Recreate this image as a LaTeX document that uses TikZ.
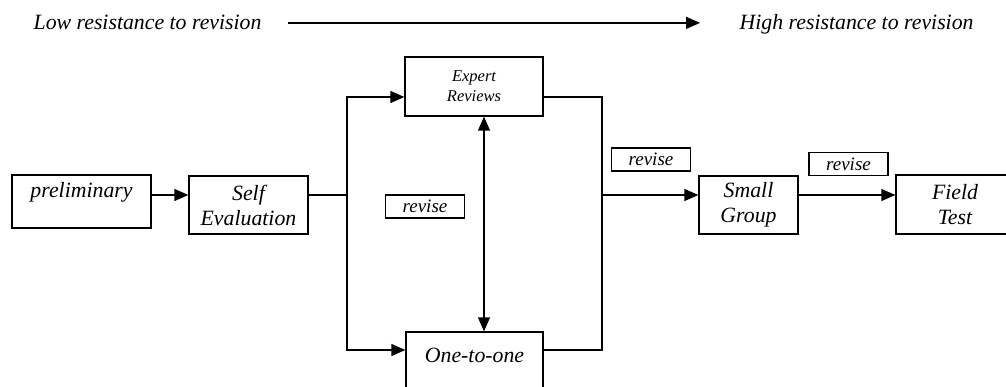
\documentclass[tikz,border=0pt]{standalone}
\usepackage{fontspec}
\setmainfont{Liberation Serif}
\usetikzlibrary{arrows.meta,positioning}

\begin{document}
\begin{tikzpicture}[x=1pt,y=-1pt,>={Triangle[length=14pt,width=12pt]},line width=1.3pt,
                    font=\itshape\fontsize{21.8}{25}\selectfont]
  \tikzstyle{stage}=[rectangle,draw=black,fill=white,align=center,inner sep=0pt]
  \tikzstyle{revbox}=[rectangle,draw=black,inner sep=0pt,minimum width=79pt,
                      minimum height=23pt,font=\itshape\fontsize{19}{22}\selectfont]
  \tikzstyle{endlabel}=[inner sep=0pt,anchor=base west]

  \clip (0,0) rectangle (1006,387);

  % resistance scale along the top
  \node[endlabel] (low)  at (33,30)  {Low resistance to revision};
  \node[endlabel] (high) at (739,30) {High resistance to revision};

  % stages
  \node[stage,minimum width=139pt,minimum height=53pt,text depth=24pt] (prelim) at (81.5,201.5) {preliminary};
  \node[stage,minimum width=119pt,minimum height=58pt] (selfev)  at (248.5,205) {Self\\Evaluation};
  \node[stage,minimum width=138pt,minimum height=59pt,
        font=\itshape\fontsize{16.5}{20}\selectfont] (expert) at (474,86.5) {Expert\\Reviews};
  \node[stage,minimum width=137pt,minimum height=59pt,text depth=12pt] (onetoone) at (474.5,361.5) {One-to-one};
  \node[stage,minimum width=99pt,minimum height=58pt]  (smallgrp)  at (748.5,205) {Small\\Group};
  \node[stage,minimum width=118pt,minimum height=59pt] (fieldtest) at (955,204.5) {Field\\Test};

  \node[revbox] (revmid)   at (425,206.5) {revise};
  \node[revbox] (revsmall) at (651,159.5) {revise};
  \node[revbox] (revfield) at (848.5,164) {revise};

  \coordinate (mainrow) at (0,195);
  \coordinate (toprow)  at (0,97);
  \coordinate (botrow)  at (0,350);
  \coordinate (fork)    at (347,195);
  \coordinate (merge)   at (602,195);
  \coordinate (both)    at (484,0);

  \draw[->] ([xshift=26pt]low.east) -- ([xshift=-39pt]high.west |- low.east);

  \draw[->] (prelim.east |- mainrow) -- (selfev.west |- mainrow);
  \draw (selfev.east |- mainrow) -- (fork);
  \draw[->] (fork) |- (expert.west |- toprow);
  \draw[->] (fork) |- (onetoone.west |- botrow);
  \draw (expert.east |- toprow) -| (merge);
  \draw (onetoone.east |- botrow) -| (merge);
  \draw[->] (merge) -- (smallgrp.west |- mainrow);
  \draw[->] (smallgrp.east |- mainrow) -- (fieldtest.west |- mainrow);
  \draw[<->] (both |- expert.south) -- (both |- onetoone.north);
\end{tikzpicture}
\end{document}
